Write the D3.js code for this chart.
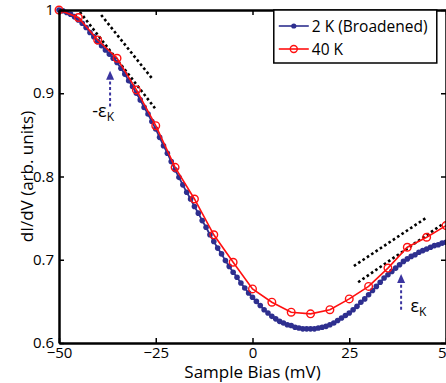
<!DOCTYPE html>
<html>
<head>
<meta charset="utf-8">
<script src="https://cdn.jsdelivr.net/npm/d3@7"></script>
<style>
  body { margin: 0; background: #fff; }
  svg text { font-family: "Open Sans", "Noto Sans", sans-serif; fill: #000; }
</style>
</head>
<body>
<div id="chart"></div>
<script>
// bias axis (mV) and tick labels
const xTicks = [-50, -25, 0, 25, 50];
const yTicks = [0.6, 0.7, 0.8, 0.9, 1];

// 2 K (broadened): one point per mV from -50 to 50
const bias2K = d3.range(-50, 51, 1);
const didv2K = [
  1.000, 0.999, 0.997, 0.995, 0.992, 0.988, 0.984, 0.979, 0.973, 0.968,
  0.962, 0.957, 0.952, 0.947, 0.942, 0.937, 0.930, 0.923, 0.915, 0.908,
  0.900, 0.892, 0.883, 0.875, 0.866, 0.857, 0.847, 0.837, 0.828, 0.818,
  0.808, 0.799, 0.790, 0.781, 0.773, 0.764, 0.756, 0.747, 0.739, 0.730,
  0.722, 0.714, 0.707, 0.699, 0.692, 0.685, 0.679, 0.672, 0.666, 0.660,
  0.655, 0.650, 0.645, 0.640, 0.636, 0.632, 0.629, 0.626, 0.624, 0.622,
  0.621, 0.619, 0.618, 0.617, 0.617, 0.617, 0.617, 0.618, 0.619, 0.620,
  0.622, 0.624, 0.627, 0.630, 0.633, 0.636, 0.640, 0.644, 0.649, 0.653,
  0.658, 0.663, 0.668, 0.673, 0.678, 0.682, 0.686, 0.690, 0.694, 0.698,
  0.701, 0.704, 0.706, 0.709, 0.711, 0.713, 0.715, 0.717, 0.718, 0.720,
  0.721
];

// 40 K: one point every 5 mV
const bias40K = [-50, -45, -40, -35, -30, -25, -20, -15, -10, -5, 0, 5, 10, 15, 20, 25, 30, 35, 40, 45, 50];
const didv40K = [1.000, 0.991, 0.964, 0.942, 0.904, 0.861, 0.811, 0.773, 0.730, 0.697, 0.665,
  0.649, 0.637, 0.635, 0.640, 0.653, 0.668, 0.690, 0.715, 0.727, 0.741];

// dotted tangent guides, [x1, y1, x2, y2] in data units
const tangents = [
  [-44.6, 0.9976, -25.2, 0.882],
  [-39.1, 0.994, -26.0, 0.918],
  [26.2, 0.6925, 45.1, 0.751],
  [27.3, 0.673, 49.5, 0.744]
];

// epsilon_K arrows: x, y tail, y head, label position
const arrows = [
  { x: -36.8, y0: 0.884, y1: 0.927, sign: '-', lx: -41.4, ly: 0.871 },
  { x: 38.4, y0: 0.640, y1: 0.683, sign: '', lx: 40.8, ly: 0.637 }
];

const legendLabels = ['2 K (Broadened)', '40 K'];

const W = 446, H = 383;
const margin = { top: 10, right: 0, bottom: 40, left: 59 };
const width = W - margin.left - margin.right;
const height = H - margin.top - margin.bottom;

const blue = '#2e2f8f';
const red = '#ff1010';

const svg = d3.select('#chart').append('svg')
  .attr('width', W)
  .attr('height', H);

const g = svg.append('g')
  .attr('transform', `translate(${margin.left},${margin.top})`);

const x = d3.scaleLinear().domain([-50, 50]).range([0, width]);
const y = d3.scaleLinear().domain([0.6, 1]).range([height, 0]);

const clipId = 'plot-clip';
g.append('clipPath').attr('id', clipId)
  .append('rect').attr('x', -6).attr('y', -6).attr('width', width + 12).attr('height', height + 12);

const plot = g.append('g').attr('clip-path', `url(#${clipId})`);

// dotted tangents
plot.selectAll('line.tangent')
  .data(tangents)
  .join('line')
    .attr('class', 'tangent')
    .attr('x1', d => x(d[0]))
    .attr('y1', d => y(d[1]))
    .attr('x2', d => x(d[2]))
    .attr('y2', d => y(d[3]))
    .attr('stroke', '#000')
    .attr('stroke-width', 2.6)
    .attr('stroke-dasharray', '2.6,2.6');

const line = d3.line()
  .x(d => x(d[0]))
  .y(d => y(d[1]));

const data2K = bias2K.map((b, i) => [b, didv2K[i]]);
const data40K = bias40K.map((b, i) => [b, didv40K[i]]);

// 2 K series
plot.append('path')
  .datum(data2K)
  .attr('fill', 'none')
  .attr('stroke', blue)
  .attr('stroke-width', 1.8)
  .attr('d', line);

plot.selectAll('circle.b')
  .data(data2K)
  .join('circle')
    .attr('class', 'b')
    .attr('cx', d => x(d[0]))
    .attr('cy', d => y(d[1]))
    .attr('r', 2.8)
    .attr('fill', blue);

// 40 K series
plot.append('path')
  .datum(data40K)
  .attr('fill', 'none')
  .attr('stroke', red)
  .attr('stroke-width', 1.6)
  .attr('d', line);

plot.selectAll('circle.r')
  .data(data40K)
  .join('circle')
    .attr('class', 'r')
    .attr('cx', d => x(d[0]))
    .attr('cy', d => y(d[1]))
    .attr('r', 3.8)
    .attr('fill', 'none')
    .attr('stroke', red)
    .attr('stroke-width', 1.4);

// epsilon_K arrows
const arrowColor = '#3b35a0';
arrows.forEach((a) => {
  const ax = x(a.x), ay0 = y(a.y0), ay1 = y(a.y1);
  g.append('line')
    .attr('x1', ax).attr('x2', ax)
    .attr('y1', ay0).attr('y2', ay1 + 7)
    .attr('stroke', arrowColor)
    .attr('stroke-width', 2)
    .attr('stroke-dasharray', '3,2.5');
  g.append('path')
    .attr('d', `M${ax},${ay1} L${ax - 4},${ay1 + 9} L${ax + 4},${ay1 + 9} Z`)
    .attr('fill', arrowColor);
  const t = g.append('text')
    .attr('x', x(a.lx))
    .attr('y', y(a.ly))
    .attr('font-size', 18);
  t.append('tspan').text(a.sign + 'ε');
  t.append('tspan').attr('font-size', 12).attr('dy', 4).text('K');
});

// axes: ticks pointing inward on all four sides
const frame = 2.5;

const xAxis = g.append('g')
  .attr('transform', `translate(0,${height})`)
  .call(d3.axisBottom(x).tickValues(xTicks).tickSizeInner(-5).tickSizeOuter(0).tickPadding(7)
    .tickFormat(d3.format('d')));

const xTop = g.append('g')
  .call(d3.axisTop(x).tickValues(xTicks).tickSizeInner(-5).tickSizeOuter(0).tickFormat(''));

const yAxis = g.append('g')
  .call(d3.axisLeft(y).tickValues(yTicks).tickSizeInner(-5).tickSizeOuter(0).tickPadding(5)
    .tickFormat(d => (d === 1 ? '1' : d3.format('.1f')(d))));

const yRight = g.append('g')
  .attr('transform', `translate(${width},0)`)
  .call(d3.axisRight(y).tickValues(yTicks).tickSizeInner(-5).tickSizeOuter(0).tickFormat(''));

[xAxis, xTop, yAxis, yRight].forEach((ax) => {
  ax.select('.domain').attr('stroke', '#000').attr('stroke-width', frame);
  ax.selectAll('.tick line').attr('stroke', '#000').attr('stroke-width', 1.5);
  ax.selectAll('.tick text')
    .attr('font-size', 15)
    .attr('font-family', '"Open Sans", "Noto Sans", sans-serif')
    .attr('fill', '#000');
});
xAxis.selectAll('.tick text').attr('dy', '0.55em');
yAxis.selectAll('.tick text').attr('dy', '0.3em');

// axis titles
g.append('text')
  .attr('x', width / 2)
  .attr('y', height + 35)
  .attr('text-anchor', 'middle')
  .attr('font-size', 17)
  .text('Sample Bias (mV)');

g.append('text')
  .attr('transform', `translate(${-26},${height / 2}) rotate(-90)`)
  .attr('text-anchor', 'middle')
  .attr('font-size', 17)
  .text('dI/dV (arb. units)');

// legend
const lg = g.append('g').attr('transform', `translate(${x(5.5)},0)`);
lg.append('rect')
  .attr('x', 0).attr('y', 0)
  .attr('width', 163).attr('height', 53)
  .attr('fill', '#fff')
  .attr('stroke', '#000')
  .attr('stroke-width', 1.5);

const legendItems = [
  { label: legendLabels[0], color: blue, open: false },
  { label: legendLabels[1], color: red, open: true }
];
legendItems.forEach((it, i) => {
  const ly = 16 + i * 23;
  lg.append('line')
    .attr('x1', 5).attr('x2', 35)
    .attr('y1', ly).attr('y2', ly)
    .attr('stroke', it.color)
    .attr('stroke-width', 1.6);
  lg.append('circle')
    .attr('cx', 20).attr('cy', ly)
    .attr('r', it.open ? 3.5 : 2.6)
    .attr('fill', it.open ? 'none' : it.color)
    .attr('stroke', it.open ? it.color : 'none')
    .attr('stroke-width', 1.4);
  lg.append('text')
    .attr('x', 38)
    .attr('y', ly + 5.5)
    .attr('font-size', 15.5)
    .text(it.label);
});
</script>
</body>
</html>
